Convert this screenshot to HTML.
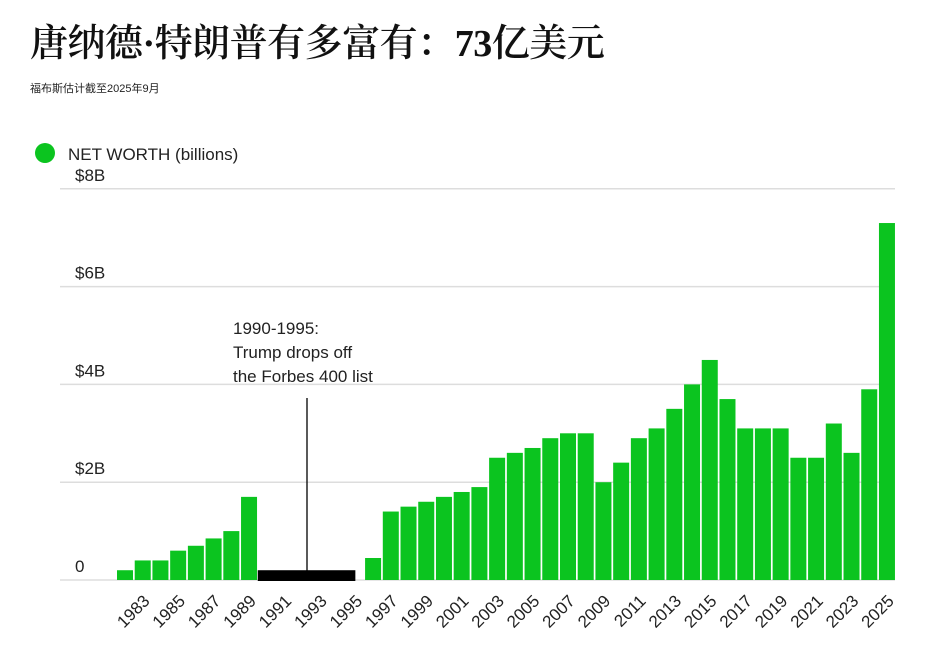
<!DOCTYPE html>
<html><head><meta charset="utf-8">
<style>
body{margin:0;width:928px;height:655px;background:#fff;overflow:hidden;font-family:"Liberation Sans","Noto Sans CJK SC",sans-serif}
#title{position:absolute;left:30px;top:12px;font-family:"Liberation Serif","Noto Serif CJK SC",serif;font-size:38px;font-weight:600;color:#111;letter-spacing:-0.5px;white-space:nowrap}
#title b{font-weight:bold}
#sub{position:absolute;left:30px;top:80px;font-size:11px;color:#222}
svg{position:absolute;left:0;top:0}
</style></head><body>
<div id="title">唐纳德·特朗普有多富有：<b>73</b>亿美元</div>
<div id="sub">福布斯估计截至2025年9月</div>
<svg id="chart" width="928" height="655"></svg>
<script>
const years=[1982,1983,1984,1985,1986,1987,1988,1989,1996,1997,1998,1999,2000,2001,2002,2003,2004,2005,2006,2007,2008,2009,2010,2011,2012,2013,2014,2015,2016,2017,2018,2019,2020,2021,2022,2023,2024,2025];
const netWorth=[0.2,0.4,0.4,0.6,0.7,0.85,1.0,1.7,0.45,1.4,1.5,1.6,1.7,1.8,1.9,2.5,2.6,2.7,2.9,3.0,3.0,2.0,2.4,2.9,3.1,3.5,4.0,4.5,3.7,3.1,3.1,3.1,2.5,2.5,3.2,2.6,3.9,7.3];
const yTicks=[0,2,4,6,8];
const yTickLabels=["0","$2B","$4B","$6B","$8B"];
const xTickLabels=[1983,1985,1987,1989,1991,1993,1995,1997,1999,2001,2003,2005,2007,2009,2011,2013,2015,2017,2019,2021,2023,2025];
const offRange=[1990,1995];

const NS="http://www.w3.org/2000/svg";
const svg=document.getElementById('chart');
const y0=580,pxPerB=48.9,x0=125,step=17.72,bw=16;
const y=v=>y0-v*pxPerB;
const x=yr=>x0+(yr-1982)*step;
function mk(t,a){const e=document.createElementNS(NS,t);for(const k in a)e.setAttribute(k,a[k]);svg.appendChild(e);return e;}

yTicks.forEach((t,i)=>{
  const g=mk('line',{x1:60,x2:895,y1:y(t),y2:y(t),stroke:'#ddd','stroke-width':1.5});
  
  
  const tx=mk('text',{x:75,y:y(t)-8,'font-size':17,fill:'#222'});
  tx.textContent=yTickLabels[i];
  
  
});

years.forEach((yr,i)=>{
  const r=mk('rect',{x:x(yr)-bw/2,y:y(netWorth[i]),width:bw,height:y0-y(netWorth[i]),fill:'#0bc41f'});
  
  
});

const ob=mk('rect',{x:x(offRange[0])-9,y:y(0.2),width:x(offRange[1])-x(offRange[0])+9,height:y0-y(0.2)+1,fill:'#000'});



const al=mk('line',{x1:307,x2:307,y1:398,y2:572,stroke:'#000','stroke-width':1.3});


["1990-1995:","Trump drops off","the Forbes 400 list"].forEach((s,i)=>{
  const t=mk('text',{x:233,y:334+i*24,'font-size':17,fill:'#222'});
  t.textContent=s;
  
  
});

xTickLabels.forEach(yr=>{
  const cx=x(yr)+8,cy=y0+22;
  const t=mk('text',{x:cx,y:cy,'font-size':17,fill:'#222','text-anchor':'end',transform:`rotate(-45 ${cx} ${cy})`});
  t.textContent=yr;
  
  
});

const lc=mk('circle',{cx:45,cy:153,r:10,fill:'#0bc41f'});


const lt=mk('text',{x:68,y:160,'font-size':17,fill:'#222'});
lt.textContent='NET WORTH (billions)';


</script>
</body></html>
